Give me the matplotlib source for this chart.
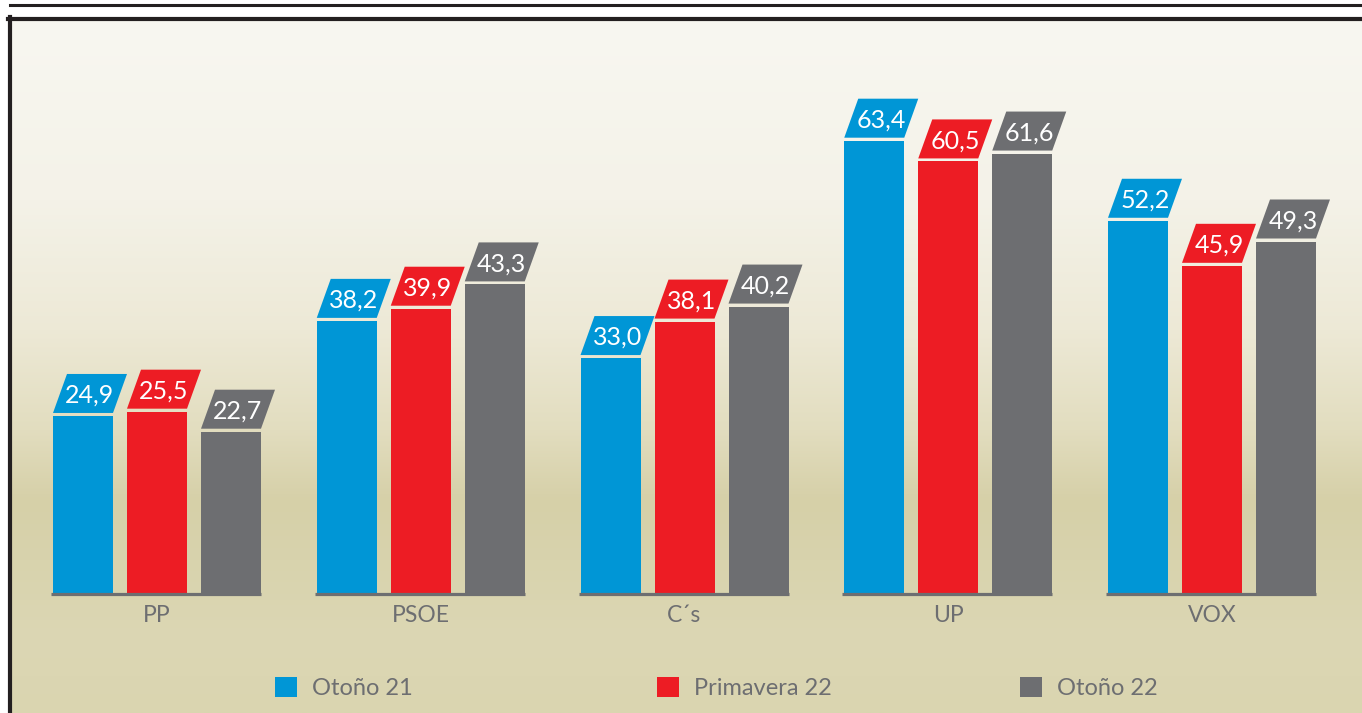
import numpy as np
import matplotlib
matplotlib.use('Agg')
import matplotlib.pyplot as plt
from matplotlib.patches import Patch
from matplotlib.lines import Line2D

# ---------------- data ----------------
categories = ['PP', 'PSOE', 'C´s', 'UP', 'VOX']
series_names = ['Otoño 21', 'Primavera 22', 'Otoño 22']
otono21 = [24.9, 38.2, 33.0, 63.4, 52.2]
primavera22 = [25.5, 39.9, 38.1, 60.5, 45.9]
otono22 = [22.7, 43.3, 40.2, 61.6, 49.3]
series = [otono21, primavera22, otono22]
colors = ['#0096d6', '#ed1c24', '#6d6e71']

plt.rcParams['font.family'] = ['Lato', 'DejaVu Sans']

W, H = 1362, 713
fig = plt.figure(figsize=(W / 100, H / 100), dpi=100)
fig.patch.set_facecolor('white')

# ---------------- background gradient ----------------
bg = fig.add_axes([12 / W, 0, 1 - 12 / W, 1 - 20 / H])
bg.set_axis_off()
stops_y = [20, 200, 330, 430, 500, 560, 640, 713]
stops_c = ['#f8f7f1', '#f4f2e8', '#ede9d6', '#e2ddbf', '#d6d0a8', '#d8d3ad', '#dcd7b4', '#dad5b0']
rgb = np.array([matplotlib.colors.to_rgb(c) for c in stops_c])
ys = np.arange(20, 714)
grad = np.stack([np.interp(ys, stops_y, rgb[:, k]) for k in range(3)], axis=-1)
grad = np.repeat(grad[:, None, :], 2, axis=1)
bg.imshow(grad, aspect='auto', extent=[0, 1, 0, 1], origin='upper')
bg.set_xlim(0, 1)
bg.set_ylim(0, 1)

# ---------------- main axes ----------------
ax = fig.add_axes([0, 0, 1, 1])
ax.set_facecolor('none')
ax.set_axis_off()
px_group = 263.75       # pixel spacing of groups
px_unit = 7.15          # pixel per value unit
x0_px, base_px = 157, 594
ax.set_xlim((0 - x0_px) / px_group, (W - x0_px) / px_group)
ax.set_ylim((base_px - H) / px_unit, base_px / px_unit)

x = np.arange(len(categories))
offsets = [-74 / px_group, 0, 74 / px_group]
width = 60 / px_group
slant = 14 / px_group
gap = 3 / px_unit
lab_h = 39 / px_unit

for j, vals in enumerate(series):
    xs = x + offsets[j]
    ax.bar(xs, vals, width, color=colors[j], zorder=3, linewidth=0)
    for xc, v in zip(xs, vals):
        xl, xr = xc - width / 2, xc + width / 2
        yb, yt = v + gap, v + gap + lab_h
        ax.fill([xl, xr, xr + slant, xl + slant], [yb, yb, yt, yt],
                color=colors[j], zorder=3, linewidth=0)
        ax.text(xc + slant / 2, (yb + yt) / 2, f'{v:.1f}'.replace('.', ','),
                color='white', fontsize=18,
                ha='center', va='center_baseline', zorder=4)

# baselines per group
for i in x:
    ax.hlines(0, i + offsets[0] - width / 2 - 2 / px_group, i + offsets[2] + width / 2,
              color='#6d6e71', lw=2.3, zorder=4)
    ax.annotate(categories[i], (i, 0), xytext=(0, -22), textcoords='offset pixels',
                ha='center', va='center', fontsize=16.5, color='#6d6e71')

# ---------------- legend ----------------
leg_x = [275, 657, 1020]
for j, name in enumerate(series_names):
    leg = fig.legend(handles=[Patch(facecolor=colors[j], edgecolor='none', label=name)],
                     loc='center left', bbox_to_anchor=(leg_x[j] / W, 1 - 688 / H),
                     frameon=False, handlelength=0.95, handleheight=0.95,
                     handletextpad=0.6, borderpad=0, borderaxespad=0,
                     prop={'size': 17})
    for t in leg.get_texts():
        t.set_color('#6d6e71')

# ---------------- frame lines ----------------
fig.add_artist(Line2D([10 / W, 1], [1 - 4.5 / H, 1 - 4.5 / H], transform=fig.transFigure,
                      color='#231f20', lw=2.2))
fig.add_artist(Line2D([8 / W, 1], [1 - 19 / H, 1 - 19 / H], transform=fig.transFigure,
                      color='#231f20', lw=3.0))
fig.add_artist(Line2D([10 / W, 10 / W], [0, 1 - 17 / H], transform=fig.transFigure,
                      color='#231f20', lw=3.0))

fig.savefig('out.png', dpi=100, facecolor=fig.get_facecolor())
